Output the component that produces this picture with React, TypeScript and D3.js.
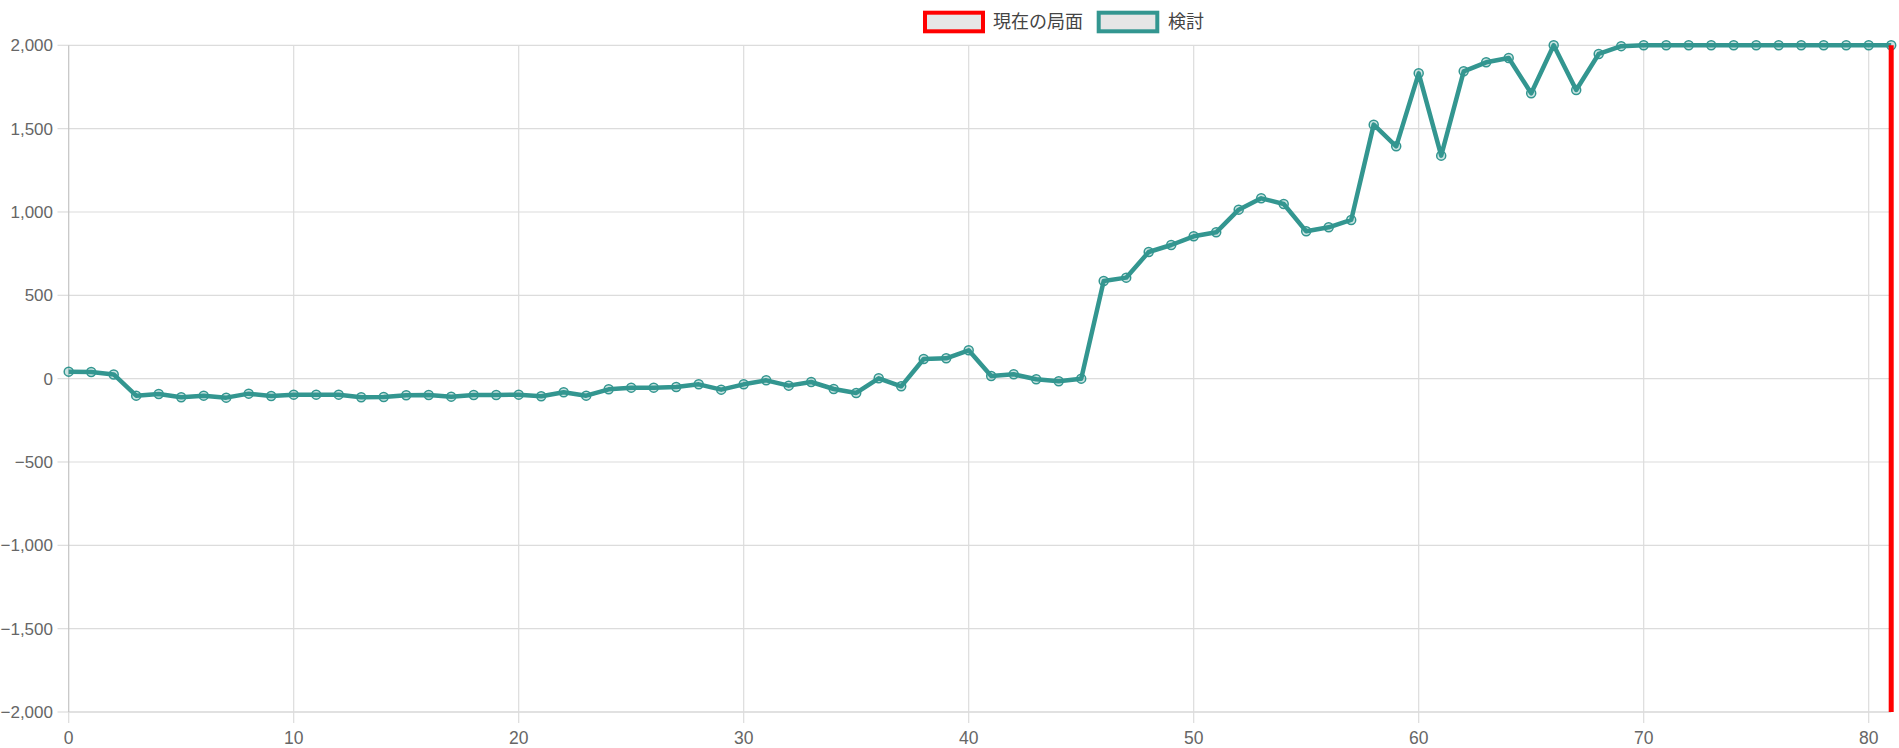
import React from "react";
import * as d3 from "d3";

const moveIndex: number[] = d3.range(0, 82);
const evalValues: number[] = [
  42, 40, 25, -102, -92, -112, -102, -114, -90, -104,
  -96, -96, -96, -112, -110, -100, -98, -108, -98, -98,
  -96, -106, -82, -102, -64, -54, -54, -50, -34, -66,
  -34, -10, -42, -20, -62, -86, 2, -46, 118, 122,
  170, 16, 26, -4, -16, 0, 586, 606, 760, 802,
  854, 878, 1014, 1082, 1048, 884, 908, 952, 1524, 1394,
  1832, 1338, 1844, 1898, 1924, 1712, 2000, 1732, 1948, 1995,
  2000, 2000, 2000, 2000, 2000, 2000, 2000, 2000, 2000, 2000,
  2000, 2000,
];
const currentPosition: number[] = [81];
const currentRange: number[] = [-2000, 2000];
const yTicks: number[] = [-2000, -1500, -1000, -500, 0, 500, 1000, 1500, 2000];
const xTicks: number[] = [0, 10, 20, 30, 40, 50, 60, 70, 80];
const legendLabels: string[] = ["現在の局面", "検討"];

const TEAL = "rgb(51,150,144)";
const RED = "#ff0000";
const FONT = "'Liberation Sans', Arial, 'Noto Sans CJK JP', sans-serif";

export default function App() {
  const W = 1899;
  const H = 748;
  const left = 68.7;
  const right = 1891.2;
  const top = 45.3;
  const bottom = 712;

  const x = d3.scaleLinear().domain([0, 81]).range([left, right]);
  const y = d3.scaleLinear().domain([-2000, 2000]).range([bottom, top]);
  const fmt = d3.format(",");

  const line = d3
    .line<number>()
    .x((_, i) => x(moveIndex[i]))
    .y((d) => y(d));

  const redX = x(currentPosition[0]);

  return (
    <svg
      width={W}
      height={H}
      style={{ position: "absolute", left: 0, top: 0, background: "#fff" }}
      fontFamily={FONT}
    >
      {/* horizontal grid */}
      {yTicks.map((t) => (
        <g key={"y" + t}>
          <line x1={left} x2={right} y1={y(t)} y2={y(t)} stroke={t === -2000 ? "#c4c4c4" : "#dcdcdc"} strokeWidth={1.2} />
          <line x1={57.5} x2={left} y1={y(t)} y2={y(t)} stroke="#dcdcdc" strokeWidth={1.2} />
          <text x={53} y={y(t)} dy="0.35em" textAnchor="end" fontSize={17} fill="#666">
            {fmt(t)}
          </text>
        </g>
      ))}
      {/* vertical grid */}
      {xTicks.map((t) => (
        <g key={"x" + t}>
          <line x1={x(t)} x2={x(t)} y1={top} y2={bottom} stroke={t === 0 ? "#c4c4c4" : "#dcdcdc"} strokeWidth={1.2} />
          <line x1={x(t)} x2={x(t)} y1={bottom} y2={723} stroke="#dcdcdc" strokeWidth={1.2} />
          <text x={x(t)} y={738} dy="0.35em" textAnchor="middle" fontSize={17.5} fill="#666">
            {t}
          </text>
        </g>
      ))}

      {/* evaluation line */}
      <path d={line(evalValues) || ""} fill="none" stroke={TEAL} strokeWidth={4.5} strokeLinejoin="round" />
      {evalValues.map((v, i) => (
        <circle
          key={"p" + i}
          cx={x(moveIndex[i])}
          cy={y(v)}
          r={4.5}
          fill="rgba(51,150,144,0.25)"
          stroke={TEAL}
          strokeWidth={1.5}
        />
      ))}

      {/* current position marker */}
      <line
        x1={redX}
        x2={redX}
        y1={y(currentRange[1])}
        y2={y(currentRange[0])}
        stroke={RED}
        strokeWidth={5}
      />

      {/* legend */}
      <g>
        <rect x={925} y={12.7} width={58} height={18.6} fill="#e6e6e6" stroke={RED} strokeWidth={4} />
        <text x={993} y={22} dy="0.35em" fontSize={18} fill="#444">
          {legendLabels[0]}
        </text>
        <rect x={1098.7} y={12.7} width={58.6} height={18.6} fill="#e6e6e6" stroke={TEAL} strokeWidth={4} />
        <text x={1168} y={22} dy="0.35em" fontSize={18} fill="#444">
          {legendLabels[1]}
        </text>
      </g>
    </svg>
  );
}
